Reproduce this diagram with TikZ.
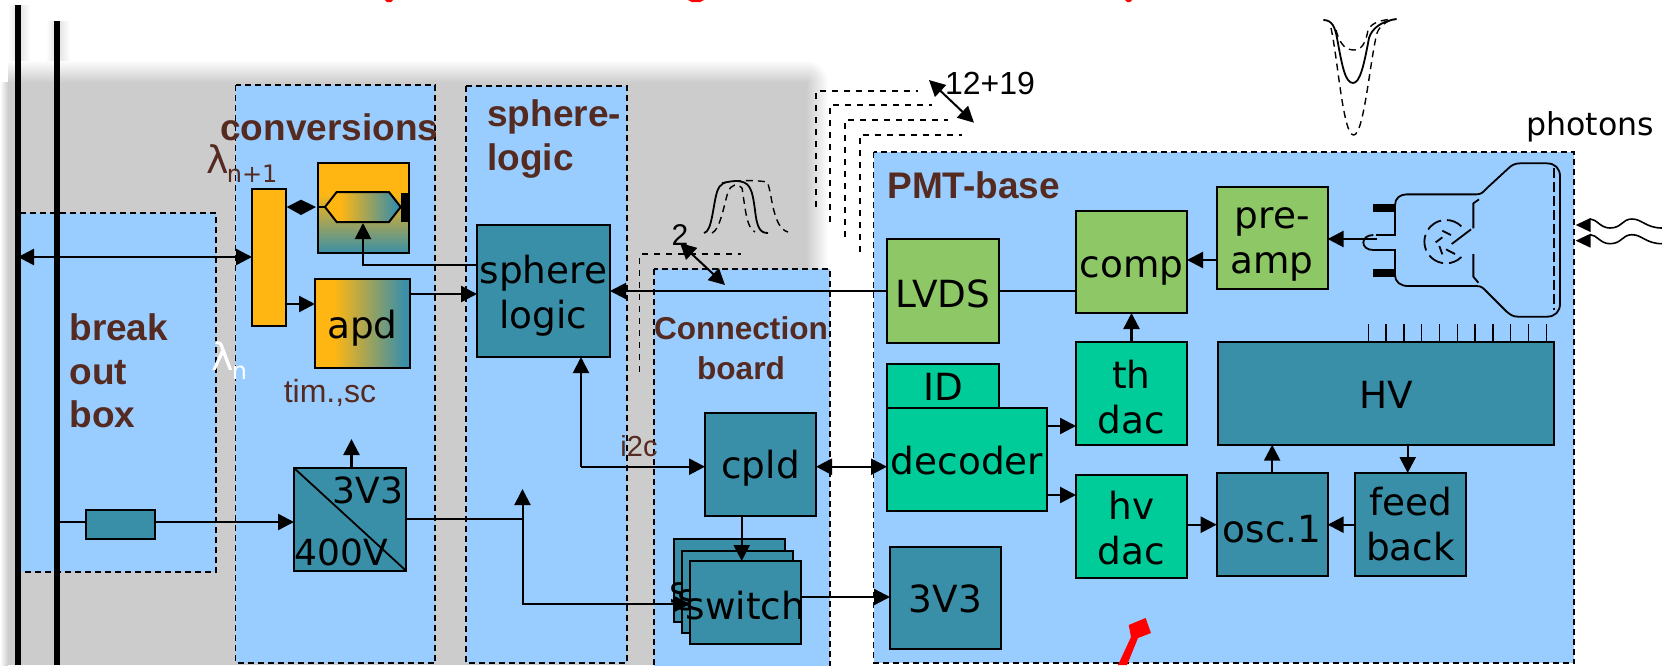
\documentclass[tikz,border=0pt]{standalone}
\usepackage{fontspec}
\setmainfont{Liberation Sans}
\newfontfamily\dv{DejaVu Sans}
\usetikzlibrary{arrows.meta,calc}
\definecolor{shadowg}{HTML}{CCCCCC}
\definecolor{paleblue}{HTML}{99CCFF}
\definecolor{tealb}{HTML}{3A8FA8}
\definecolor{greenb}{HTML}{8EC766}
\definecolor{mintb}{HTML}{00CC99}
\definecolor{amberb}{HTML}{FFB612}
\definecolor{brownt}{HTML}{552A20}
\definecolor{redm}{HTML}{FF0000}
\pgfdeclareverticalshading{ambv}{100bp}{color(0bp)=(tealb); color(25bp)=(tealb); color(58bp)=(amberb); color(100bp)=(amberb)}
\pgfdeclarehorizontalshading{ambh}{100bp}{color(0bp)=(amberb); color(35bp)=(amberb); color(72bp)=(tealb); color(100bp)=(tealb)}
% optional argument: downward text offset, picture pixels
\newcommand{\bx}[8][0]{\node[#7,minimum width={((#5)-(#3))*0.5pt},minimum height={((#6)-(#4))*0.5pt}] (#2) at ({((#3)+(#5))/2},{((#4)+(#6))/2}) {};
\node[boxtext] (#2t) at ($(#2.center)+(0,#1)$) {#8};}
\tikzset{
  x=0.5pt,y=-0.5pt,
  basebox/.style={draw=black,line width=1pt,inner sep=0pt,outer sep=0pt},
  boxtext/.style={inner sep=0pt,align=center,text=black,font=\dv\fontsize{18.7}{22.5}\selectfont},
  tealbox/.style={basebox,fill=tealb},
  greenbox/.style={basebox,fill=greenb},
  mintbox/.style={basebox,fill=mintb},
  zone/.style={draw=black,fill=paleblue,line width=0.9pt,dash pattern=on 3pt off 2pt},
  title/.style={text=brownt,inner sep=0pt,anchor=west,align=left,font=\bfseries\fontsize{18.5}{21.7}\selectfont},
  wire/.style={draw=black,line width=1.2pt},
  arr/.style={wire,-{Triangle[length=8pt,width=8pt]}},
  darr/.style={wire,{Triangle[length=8pt,width=8pt]}-{Triangle[length=8pt,width=8pt]}},
  bundle/.style={draw=black,line width=0.8pt,dash pattern=on 3pt off 3pt},
  pulse/.style={draw=black,line width=0.9pt},
  pulsed/.style={draw=black,line width=0.7pt,dash pattern=on 3.5pt off 2.5pt},
  tube/.style={draw=black,line width=0.9pt},
  plain/.style={inner sep=0pt,text=black},
}
\begin{document}
\begin{tikzpicture}
\useasboundingbox (0,0) rectangle (1662,665);
\clip (0,0) rectangle (1662,665);
% shadow
\fill[shadowg] (8,82) rectangle (806,665);
\shade[top color=white,bottom color=shadowg,draw=none] (8,60) rectangle (806,82.5);
\shade[left color=white,right color=shadowg,draw=none] (0,82) rectangle (8,665);
\shade[left color=shadowg,right color=white,draw=none] (806,82) rectangle (828,300);
\begin{scope}
\clip (806,60) rectangle (828,82.2);
\shade[inner color=shadowg,outer color=white,draw=none] (784,60) rectangle (828,104);
\end{scope}
\shade[left color=white,right color=shadowg!60,draw=none] (8,5) rectangle (18,60);
\shade[left color=shadowg!60,right color=white,draw=none] (18,5) rectangle (30,60);
\shade[left color=white,right color=shadowg!60,draw=none] (46,21) rectangle (57,60);
\shade[left color=shadowg!60,right color=white,draw=none] (57,21) rectangle (70,60);
% zones
\fill[paleblue] (20,213) rectangle (216,572);
\draw[zone,fill=none] (20,213) -- (216,213) -- (216,572) -- (20,572);
\draw[zone] (235.5,85) rectangle (435,663);
\draw[zone] (466,86) rectangle (627,663);
\draw[zone] (654,269) rectangle (830,690);
\draw[zone] (873.5,152) rectangle (1574,663);
% cut-off title
\fill[red] (385,0) -- (393,0) -- (391,2) -- (387,2) -- cycle;
\fill[red] (688,0) -- (704,0) -- (700,2) -- (692,2) -- cycle;
\fill[red] (1125,0) -- (1132,0) -- (1130,2) -- (1127,2) -- cycle;
% rails
\coordinate (railA) at (18,5);
\coordinate (railAb) at (18,665);
\coordinate (railB) at (57,21);
\coordinate (railBb) at (57,665);
\draw[black,line width=3pt] (railA) -- (railAb);
\draw[black,line width=2.8pt] (railB) -- (railBb);
% dashed bundles
\coordinate (b1s) at (816,207); \coordinate (b1c) at (816,90.7); \coordinate (b1e) at (917.5,90.7);
\coordinate (b2s) at (830,222); \coordinate (b2c) at (830,105); \coordinate (b2e) at (932,105);
\coordinate (b3s) at (845,237); \coordinate (b3c) at (845,120); \coordinate (b3e) at (948,120);
\coordinate (b4s) at (860,252); \coordinate (b4c) at (860,134.7); \coordinate (b4e) at (962,134.7);
\draw[bundle] (b1s) -- (b1c) -- (b1e);
\draw[bundle] (b2s) -- (b2c) -- (b2e);
\draw[bundle] (b3s) -- (b3c) -- (b3e);
\draw[bundle] (b4s) -- (b4c) -- (b4e);
\coordinate (c1s) at (639.5,372); \coordinate (c1c) at (639.5,254); \coordinate (c1e) at (741,254);
\draw[bundle] (c1s) -- (c1c) -- (c1e);
% titles
\node[title] (tbreak) at (69,371) {break\\out\\box};
\node[title] (tconv) at (220,127) {conversions};
\node[title] (tsphere) at (487,139) {sphere-\\logic};
\node[title,anchor=center,align=center,font=\bfseries\fontsize{15.8}{20}\selectfont] (tconn) at (741,348) {Connection\\board};
\node[title] (tpmt) at (887,185) {PMT-base};
% conversion boxes
\bx{mux}{252}{189}{286}{326}{basebox,fill=amberb}{}
\bx{laser}{318}{163}{409}{253}{basebox,shading=ambv}{}
\bx[5]{apd}{315}{279}{410}{368}{basebox,shading=ambh}{apd}
\bx{conv}{294}{468}{406}{570.7}{tealbox}{}
\draw[black,line width=0.9pt] (conv.north west) -- (conv.south east);
\node[plain,font=\dv\fontsize{18}{21}\selectfont] (t33) at (368,490) {3V3};
\node[plain,font=\dv\fontsize{18}{21}\selectfont] (t400) at (341,552) {400V};
\bx{fuse}{86}{510}{155}{538.7}{tealbox}{}
\bx[5]{sl}{477}{225}{610}{357}{tealbox}{sphere\\logic}
\bx[4]{cpld}{705}{413}{816}{515.7}{tealbox}{cpld}
\bx[9]{swc}{674}{539}{785}{622}{tealbox}{switch}
\bx[5]{swb}{682}{550.7}{793}{633}{tealbox}{switch}
\bx[3]{swa}{690}{561}{801}{644}{tealbox}{switch}
% PMT base boxes
\bx[3]{lvds}{887}{239}{998.7}{342.7}{greenbox}{LVDS}
\bx[9]{comp}{1076}{210.7}{1187}{313}{greenbox}{comp}
\bx[7]{pre}{1216.7}{186.7}{1327.6}{289}{greenbox}{\fontsize{18.7}{25}\selectfont pre-\\amp}
\bx[4]{thd}{1076}{342}{1187}{444.7}{mintbox}{th\\dac}
\bx[1]{idb}{887}{364}{999}{407.7}{mintbox}{ID}
\bx[1]{dec}{887}{407.7}{1047}{510.7}{mintbox}{decoder}
\bx[2]{hvd}{1076}{475}{1187}{578}{mintbox}{hv\\dac}
\bx[5]{osc}{1216.7}{473}{1327.6}{576}{tealbox}{osc.1}
\bx{fb}{1355}{473}{1466}{576}{tealbox}{feed\\back}
\bx[2]{hv}{1218}{342}{1554}{444.7}{tealbox}{HV}
\bx[1]{vr}{890}{546.7}{1001}{649}{tealbox}{3V3}
% HV ticks
\foreach \i in {0,...,10} {\draw[black,line width=0.7pt] ({1368.3+17.8*\i},324) -- ({1368.3+17.8*\i},342);}
% laser interior
\path[draw=black,line width=1pt,shading=ambh] (325,207) -- (336.7,192) -- (389,192) -- (400.7,207) -- (389,222) -- (336.7,222) -- cycle;
\fill[black] (401,193) rectangle (408.7,222);
\draw[black,line width=1pt] (laser.west |- 0,207) -- (325,207);
\coordinate (hexb) at (363,223);
\fill[black] (286.7,207) -- (301,199.7) -- (316,207) -- (301,215) -- cycle;
% connectors
\coordinate (lk) at (363,265);
\coordinate (pj) at (522.5,518.7);
\coordinate (pu) at (522.5,489);
\coordinate (pd) at (522.5,604);
\coordinate (ck) at (581,466.7);
\coordinate (up33) at (351.5,439);
\draw[darr] (railA |- 0,257) -- (mux.west |- 0,257);
\draw[arr] (mux.east |- 0,304) -- (apd.west |- 0,304);
\draw[arr] (apd.east |- 0,294) -- (sl.west |- 0,294);
\draw[arr,line width=1pt] (sl.west |- lk) -- (lk) -- (hexb);
\draw[arr,line width=1pt] (lvds.west |- 0,291) -- (sl.east |- 0,291);
\draw[wire,line width=1pt] (lvds.east |- 0,291) -- (comp.west |- 0,291);
\draw[arr] (pre.west |- 0,260) -- (comp.east |- 0,260);
\draw[arr] (thd.north) -- (comp.south);
\draw[arr] (dec.east |- 0,426) -- (thd.west |- 0,426);
\draw[arr] (dec.east |- 0,495) -- (hvd.west |- 0,495);
\draw[arr] (hvd.east |- 0,524.7) -- (osc.west |- 0,524.7);
\draw[arr] (fb.west |- 0,524.7) -- (osc.east |- 0,524.7);
\draw[arr] (osc.north) -- (hv.south -| osc.north);
\draw[arr] (hv.south -| 1407.7,0) -- (fb.north -| 1407.7,0);
\draw[wire,line width=1pt] (railB |- 0,522) -- (fuse.west |- 0,522);
\draw[arr] (fuse.east |- 0,522) -- (conv.west |- 0,522);
\draw[arr] (conv.north -| up33) -- (up33);
\draw[wire,line width=1pt] (conv.east |- pj) -- (pj);
\draw[arr,line width=1pt] (pj) -- (pu);
\draw[arr,line width=1pt] (pj) -- (pd) -- (swa.west |- pd);
\draw[darr] (cpld.east |- 0,466.7) -- (dec.west |- 0,466.7);
\draw[arr,line width=1pt] (ck) -- (sl.south -| ck);
\draw[arr] (ck) -- (cpld.west |- ck);
\draw[arr] (cpld.south -| 741.7,0) -- (swa.north -| 741.7,0);
\draw[arr] (swa.east |- 0,597) -- (vr.west |- 0,597);
% labels
\node[plain,text=brownt,font=\fontsize{14.5}{16}\selectfont] (li2c) at (639,446) {i2c};
\node[plain,text=brownt,font=\fontsize{16}{18}\selectfont] (ltim) at (330,393) {tim.,sc};
\node[plain,text=brownt,anchor=west,font=\dv\fontsize{19}{20}\selectfont] (llam) at (206,164) {λ\hspace{-1pt}\raisebox{-4.5pt}{\fontsize{12}{14}\selectfont n+1}};
\node[plain,text=white,anchor=west,font=\dv\fontsize{19}{20}\selectfont] (llamn) at (211,361) {λ\hspace{-1pt}\raisebox{-4.5pt}{\fontsize{12}{14}\selectfont n}};
\node[plain,font=\fontsize{15}{18}\selectfont] (l2) at (680,235) {2};
\node[plain,font=\fontsize{16}{18}\selectfont] (l12) at (990,83) {12+19};
\node[plain,font=\dv\fontsize{15.8}{18}\selectfont] (lph) at (1590,127) {photons};
\coordinate (ta1) at (680,243); \coordinate (ta2) at (725,285);
\draw[darr,line width=1pt] (ta1) -- (ta2);
\coordinate (tb1) at (929,80); \coordinate (tb2) at (974,122.7);
\draw[darr,line width=1pt] (tb1) -- (tb2);
% small pulse
\draw[pulse] (704,233) .. controls (712,232) and (713,205) .. (717,192) .. controls (720,183) and (724,182) .. (735,181) .. controls (750,181) and (752,188) .. (755,210) .. controls (757,228) and (760,233) .. (768,233);
\draw[pulsed] (712,233) .. controls (720,230) and (724,205) .. (728,192) .. controls (731,184) and (738,183) .. (742,188) .. controls (745,205) and (746,228) .. (755,232);
\draw[pulsed] (722,183) .. controls (735,180) and (757,180) .. (767,182) .. controls (772,190) and (772,228) .. (788,232);
% big pulse
\draw[pulse] (1323.4,20) .. controls (1332,20) and (1335,27) .. (1337,38) .. controls (1342,65) and (1345,83) .. (1353,83) .. controls (1360,83) and (1364,65) .. (1369,38) .. controls (1372,28) and (1382,21) .. (1396.6,19);
\draw[pulsed] (1336,30) .. controls (1340,45) and (1346,50) .. (1354,50) .. controls (1362,50) and (1366,42) .. (1368,30) .. controls (1372,22) and (1382,20) .. (1393,19);
\draw[pulsed] (1331,28) .. controls (1338,60) and (1343,135) .. (1353.6,135) .. controls (1364,135) and (1370,60) .. (1377,33) .. controls (1380,25) and (1388,20) .. (1396,19);
% PMT tube
\begin{scope}[shift={(1340,140)},x=0.1667pt,y=-0.1667pt]
\fill[black] (100,193) rectangle (165,217);
\fill[black] (98,388) rectangle (165,412);
\draw[tube] (108,285) -- (165,285) -- (165,195) .. controls (165,175) and (180,163) .. (200,163) -- (410,163) .. controls (425,163) and (430,155) .. (440,145) -- (505,85) .. controls (515,75) and (525,70) .. (540,70) -- (620,70) .. controls (645,70) and (660,85) .. (660,110) -- (660,490) .. controls (660,515) and (645,530) .. (620,530) -- (535,530) .. controls (520,530) and (512,525) .. (500,515) -- (440,455) .. controls (430,445) and (425,438) .. (410,438) -- (205,438) .. controls (180,438) and (165,425) .. (165,405) -- (165,330) -- (100,330) .. controls (60,330) and (60,285) .. (100,285);
\draw[tube,dash pattern=on 5pt off 2pt] (643,85) -- (643,510);
\draw[tube] (417,178) -- (400,190) -- (400,265);
\draw[tube] (400,342) -- (400,410) -- (415,428);
\draw[tube] (335,312) -- (393,268);
\draw[tube,dash pattern=on 8pt off 3pt] (364,259) arc[start angle=-45,end angle=-315,radius=65];
\draw[tube] (307,272) -- (333,285);
\draw[tube] (287,307) -- (307,292);
\draw[tube] (298,318) -- (307,343);
\draw[tube] (318,328) -- (345,342);
\end{scope}
\coordinate (pmtout) at (1376.7,239);
\draw[arr] (pmtout) -- (pre.east |- pmtout);
% photons
\coordinate (ph1) at (1575.7,225);
\coordinate (ph2) at (1575.7,240.7);
\foreach \t/\dy in {ph1/0,ph2/15.7} {
\fill[black] (\t) -- (1590.5,{218+\dy}) -- (1590.5,{232+\dy}) -- cycle;
\draw[black,line width=0.8pt] (1590,{219+\dy}) .. controls (1597,{219+\dy}) and (1600,{228+\dy}) .. (1610,{228+\dy}) .. controls (1622,{228+\dy}) and (1622,{219+\dy}) .. (1632,{219+\dy}) .. controls (1642,{219+\dy}) and (1646,{228+\dy}) .. (1662,{228+\dy});
}
% red pointer
\fill[redm] (1118,665) -- (1131,637) -- (1128.7,625) -- (1145.6,618) -- (1151,633) -- (1138,638) -- (1127,665) -- cycle;
\end{tikzpicture}
\end{document}
